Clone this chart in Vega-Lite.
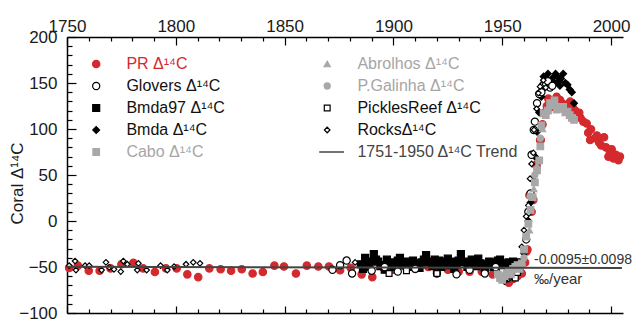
{
  "$schema": "https://vega.github.io/schema/vega-lite/v6.json",
  "width": 556,
  "height": 276,
  "autosize": "none",
  "padding": {"left": 67, "top": 37, "right": 10, "bottom": 9},
  "config": {
    "view": {"stroke": null},
    "font": "Liberation Sans",
    "axis": {"grid": false, "domainColor": "#000", "domainWidth": 1.5, "tickColor": "#000", "tickWidth": 1.2, "labelFont": "Liberation Sans", "labelFontSize": 17, "labelColor": "#1a1a1a", "labelFlush": false, "labelOverlap": false, "labelBound": false},
    "legend": {"orient": "none", "legendX": 21.2, "legendY": 19, "columns": 2, "columnPadding": 94, "rowPadding": 6, "clipHeight": 16, "labelFont": "Liberation Sans", "labelFontSize": 16, "labelOffset": 22.2, "padding": 0, "symbolStrokeWidth": 1.2, "labelLimit": 250}
  },
  "datasets": {
    "pts": [
      {"s":"PR","x":1751,"v":-51},{"s":"PR","x":1755,"v":-48.5},{"s":"PR","x":1760,"v":-54},{"s":"PR","x":1765,"v":-54},{"s":"PR","x":1770,"v":-51.5},{"s":"PR","x":1775,"v":-47},{"s":"PR","x":1780.5,"v":-45.5},{"s":"PR","x":1785,"v":-51.5},{"s":"PR","x":1790.4,"v":-55.5},{"s":"PR","x":1795.5,"v":-51.5},{"s":"PR","x":1800.4,"v":-51.5},{"s":"PR","x":1805.3,"v":-58},{"s":"PR","x":1810.3,"v":-61},{"s":"PR","x":1815.4,"v":-51.5},{"s":"PR","x":1820.6,"v":-52.5},{"s":"PR","x":1825.4,"v":-54},{"s":"PR","x":1830.3,"v":-52.5},{"s":"PR","x":1835.3,"v":-57},{"s":"PR","x":1840,"v":-55.5},{"s":"PR","x":1845.3,"v":-48.5},{"s":"PR","x":1849.7,"v":-49.5},{"s":"PR","x":1855.2,"v":-57},{"s":"PR","x":1860.2,"v":-48.5},{"s":"PR","x":1865.5,"v":-49.5},{"s":"PR","x":1870.4,"v":-49.5},{"s":"PR","x":1875.5,"v":-53.5},{"s":"PR","x":1880.4,"v":-51},{"s":"PR","x":1885.4,"v":-58},{"s":"PR","x":1890.3,"v":-61},{"s":"PR","x":1895,"v":-50},{"s":"PR","x":1900,"v":-53},{"s":"PR","x":1905,"v":-49},{"s":"PR","x":1910,"v":-52},{"s":"PR","x":1916,"v":-50},{"s":"PR","x":1920,"v":-54},{"s":"PR","x":1925,"v":-53},{"s":"PR","x":1930,"v":-55},{"s":"PR","x":1935,"v":-55},{"s":"PR","x":1940.6,"v":-55},{"s":"PR","x":1945.6,"v":-58},{"s":"PR","x":1951.3,"v":-60},{"s":"PR","x":1953,"v":-67},{"s":"PR","x":1955,"v":-63},{"s":"PR","x":1957,"v":-60},{"s":"PR","x":1959,"v":-57},{"s":"PR","x":1960.5,"v":-45},{"s":"PR","x":1961.2,"v":-33},{"s":"PR","x":1961.6,"v":-31},{"s":"PR","x":1962.5,"v":28},{"s":"PR","x":1963.5,"v":10},{"s":"PR","x":1964.3,"v":23},{"s":"PR","x":1965.5,"v":61},{"s":"PR","x":1965.8,"v":60},{"s":"PR","x":1967.4,"v":88},{"s":"PR","x":1967.7,"v":88},{"s":"PR","x":1968.5,"v":105},{"s":"PR","x":1969.5,"v":118},{"s":"PR","x":1970.5,"v":125},{"s":"PR","x":1971.2,"v":133},{"s":"PR","x":1972.7,"v":124},{"s":"PR","x":1974,"v":130},{"s":"PR","x":1975,"v":135},{"s":"PR","x":1976.6,"v":131.5},{"s":"PR","x":1978,"v":127},{"s":"PR","x":1979,"v":126},{"s":"PR","x":1980,"v":122},{"s":"PR","x":1981.2,"v":129.7},{"s":"PR","x":1982.5,"v":123},{"s":"PR","x":1983.5,"v":120},{"s":"PR","x":1985.4,"v":117.7},{"s":"PR","x":1986,"v":112},{"s":"PR","x":1987.3,"v":108},{"s":"PR","x":1988.8,"v":106},{"s":"PR","x":1989.5,"v":96},{"s":"PR","x":1990.4,"v":88},{"s":"PR","x":1990.8,"v":99.7},{"s":"PR","x":1992.6,"v":90},{"s":"PR","x":1993.5,"v":93},{"s":"PR","x":1994.6,"v":85},{"s":"PR","x":1995.5,"v":82},{"s":"PR","x":1996.8,"v":91},{"s":"PR","x":1997.7,"v":80},{"s":"PR","x":1998.8,"v":70},{"s":"PR","x":1999.5,"v":75},{"s":"PR","x":2000.3,"v":78},{"s":"PR","x":2001.1,"v":68},{"s":"PR","x":2002.2,"v":72},{"s":"PR","x":2003.4,"v":66},{"s":"PR","x":2004.1,"v":70},

      {"s":"Bmda97","x":1885,"v":-47},{"s":"Bmda97","x":1886,"v":-52},{"s":"Bmda97","x":1887,"v":-40},{"s":"Bmda97","x":1888,"v":-45},{"s":"Bmda97","x":1889,"v":-50},{"s":"Bmda97","x":1890,"v":-44},{"s":"Bmda97","x":1891,"v":-36},{"s":"Bmda97","x":1892,"v":-42},{"s":"Bmda97","x":1893,"v":-44},{"s":"Bmda97","x":1894,"v":-49},{"s":"Bmda97","x":1895,"v":-48},{"s":"Bmda97","x":1896,"v":-53},{"s":"Bmda97","x":1897,"v":-42},{"s":"Bmda97","x":1898,"v":-46},{"s":"Bmda97","x":1899,"v":-45},{"s":"Bmda97","x":1900,"v":-50},{"s":"Bmda97","x":1901,"v":-47},{"s":"Bmda97","x":1902,"v":-43},{"s":"Bmda97","x":1903,"v":-40},{"s":"Bmda97","x":1904,"v":-48},{"s":"Bmda97","x":1905,"v":-45},{"s":"Bmda97","x":1906,"v":-44},{"s":"Bmda97","x":1907,"v":-50},{"s":"Bmda97","x":1908,"v":-47},{"s":"Bmda97","x":1909,"v":-43},{"s":"Bmda97","x":1910,"v":-49},{"s":"Bmda97","x":1911,"v":-46},{"s":"Bmda97","x":1912,"v":-51},{"s":"Bmda97","x":1913,"v":-45},{"s":"Bmda97","x":1914,"v":-42},{"s":"Bmda97","x":1915,"v":-37},{"s":"Bmda97","x":1916,"v":-44},{"s":"Bmda97","x":1917,"v":-45},{"s":"Bmda97","x":1918,"v":-49},{"s":"Bmda97","x":1919,"v":-42},{"s":"Bmda97","x":1920,"v":-47},{"s":"Bmda97","x":1921,"v":-43},{"s":"Bmda97","x":1922,"v":-50},{"s":"Bmda97","x":1923,"v":-47},{"s":"Bmda97","x":1924,"v":-44},{"s":"Bmda97","x":1925,"v":-41},{"s":"Bmda97","x":1926,"v":-48},{"s":"Bmda97","x":1927,"v":-44},{"s":"Bmda97","x":1928,"v":-52},{"s":"Bmda97","x":1929,"v":-47},{"s":"Bmda97","x":1930,"v":-43},{"s":"Bmda97","x":1931,"v":-36},{"s":"Bmda97","x":1932,"v":-45},{"s":"Bmda97","x":1933,"v":-44},{"s":"Bmda97","x":1934,"v":-50},{"s":"Bmda97","x":1935,"v":-46},{"s":"Bmda97","x":1936,"v":-42},{"s":"Bmda97","x":1937,"v":-47},{"s":"Bmda97","x":1938,"v":-49},{"s":"Bmda97","x":1939,"v":-41},{"s":"Bmda97","x":1940,"v":-46},{"s":"Bmda97","x":1941,"v":-48},{"s":"Bmda97","x":1942,"v":-51},{"s":"Bmda97","x":1943,"v":-47},{"s":"Bmda97","x":1944,"v":-44},{"s":"Bmda97","x":1945,"v":-45},{"s":"Bmda97","x":1946,"v":-50},{"s":"Bmda97","x":1947,"v":-48},{"s":"Bmda97","x":1948,"v":-43},{"s":"Bmda97","x":1949,"v":-42},{"s":"Bmda97","x":1950,"v":-46},{"s":"Bmda97","x":1951,"v":-48},{"s":"Bmda97","x":1952,"v":-52},{"s":"Bmda97","x":1953,"v":-45},{"s":"Bmda97","x":1954,"v":-47},{"s":"Bmda97","x":1955,"v":-44},{"s":"Bmda97","x":1956,"v":-49},{"s":"Bmda97","x":1957,"v":-50},{"s":"Bmda97","x":1958,"v":-45},

      {"s":"Bmda","x":1958,"v":-50},{"s":"Bmda","x":1959,"v":-45},{"s":"Bmda","x":1960,"v":-35},{"s":"Bmda","x":1961,"v":-20},{"s":"Bmda","x":1962,"v":0},{"s":"Bmda","x":1963,"v":20},{"s":"Bmda","x":1964,"v":45},{"s":"Bmda","x":1965,"v":70},{"s":"Bmda","x":1966,"v":97},{"s":"Bmda","x":1967,"v":118},{"s":"Bmda","x":1968,"v":135},{"s":"Bmda","x":1968.5,"v":148},{"s":"Bmda","x":1969,"v":157},{"s":"Bmda","x":1970,"v":150},{"s":"Bmda","x":1970.5,"v":155},{"s":"Bmda","x":1971,"v":160},{"s":"Bmda","x":1972,"v":152},{"s":"Bmda","x":1972.5,"v":146},{"s":"Bmda","x":1973,"v":155},{"s":"Bmda","x":1974,"v":150},{"s":"Bmda","x":1974.5,"v":160},{"s":"Bmda","x":1975,"v":158},{"s":"Bmda","x":1976,"v":152},{"s":"Bmda","x":1976.5,"v":147},{"s":"Bmda","x":1977,"v":155},{"s":"Bmda","x":1978,"v":160},{"s":"Bmda","x":1979,"v":150},{"s":"Bmda","x":1980,"v":148},{"s":"Bmda","x":1981,"v":143},{"s":"Bmda","x":1982,"v":140},{"s":"Bmda","x":1983,"v":128},

      {"s":"Glovers","x":1872,"v":-53},{"s":"Glovers","x":1875.5,"v":-48},{"s":"Glovers","x":1878.5,"v":-43},{"s":"Glovers","x":1881,"v":-57},{"s":"Glovers","x":1890,"v":-54},{"s":"Glovers","x":1896,"v":-50},{"s":"Glovers","x":1902,"v":-55},{"s":"Glovers","x":1910,"v":-52},{"s":"Glovers","x":1920,"v":-57},{"s":"Glovers","x":1929,"v":-58},{"s":"Glovers","x":1935,"v":-53},{"s":"Glovers","x":1942,"v":-57},{"s":"Glovers","x":1947,"v":-50},{"s":"Glovers","x":1952.5,"v":-62},{"s":"Glovers","x":1954.8,"v":-55},{"s":"Glovers","x":1957.9,"v":-53},{"s":"Glovers","x":1961,"v":-20},{"s":"Glovers","x":1962,"v":10},{"s":"Glovers","x":1963,"v":30},{"s":"Glovers","x":1963.5,"v":72},{"s":"Glovers","x":1964.5,"v":99},{"s":"Glovers","x":1965,"v":108},{"s":"Glovers","x":1966,"v":128},{"s":"Glovers","x":1967,"v":138},{"s":"Glovers","x":1968,"v":140},{"s":"Glovers","x":1969,"v":148},{"s":"Glovers","x":1970,"v":150},{"s":"Glovers","x":1971,"v":152},{"s":"Glovers","x":1972,"v":145},{"s":"Glovers","x":1973,"v":147},

      {"s":"Rocks","x":1751,"v":-48.6},{"s":"Rocks","x":1753.7,"v":-43.5},{"s":"Rocks","x":1754.1,"v":-53.3},{"s":"Rocks","x":1758.3,"v":-48.6},{"s":"Rocks","x":1760.2,"v":-48.6},{"s":"Rocks","x":1765.9,"v":-53.3},{"s":"Rocks","x":1767.9,"v":-44.9},{"s":"Rocks","x":1769.4,"v":-50.3},{"s":"Rocks","x":1771.6,"v":-52.5},{"s":"Rocks","x":1774.7,"v":-55},{"s":"Rocks","x":1775.9,"v":-43.5},{"s":"Rocks","x":1777.7,"v":-47},{"s":"Rocks","x":1782.8,"v":-46},{"s":"Rocks","x":1782.3,"v":-53.3},{"s":"Rocks","x":1786.6,"v":-53.3},{"s":"Rocks","x":1793,"v":-48.6},{"s":"Rocks","x":1796.1,"v":-53.3},{"s":"Rocks","x":1799.2,"v":-49.7},{"s":"Rocks","x":1804.7,"v":-47},{"s":"Rocks","x":1808,"v":-44.9},{"s":"Rocks","x":1811.1,"v":-46},{"s":"Rocks","x":1882.4,"v":-45},{"s":"Rocks","x":1950,"v":-60},{"s":"Rocks","x":1951,"v":-66},{"s":"Rocks","x":1953,"v":-63},{"s":"Rocks","x":1955,"v":-58},{"s":"Rocks","x":1957,"v":-52},{"s":"Rocks","x":1959,"v":-28},{"s":"Rocks","x":1960,"v":-10},{"s":"Rocks","x":1961,"v":5},{"s":"Rocks","x":1962,"v":17},{"s":"Rocks","x":1962.8,"v":46},{"s":"Rocks","x":1963.5,"v":62},{"s":"Rocks","x":1964.3,"v":74},{"s":"Rocks","x":1964.6,"v":99},{"s":"Rocks","x":1965.8,"v":122},{"s":"Rocks","x":1966.6,"v":139},{"s":"Rocks","x":1967.4,"v":146},{"s":"Rocks","x":1968.9,"v":153},{"s":"Rocks","x":1970,"v":145},

      {"s":"Pickles","x":1898,"v":-57},{"s":"Pickles","x":1906,"v":-54},{"s":"Pickles","x":1920,"v":-57},{"s":"Pickles","x":1950,"v":-55},{"s":"Pickles","x":1952,"v":-60},{"s":"Pickles","x":1954,"v":-58},{"s":"Pickles","x":1956,"v":-62},{"s":"Pickles","x":1957,"v":-56},

      {"s":"Cabo","x":1948,"v":-58},{"s":"Cabo","x":1949,"v":-62},{"s":"Cabo","x":1950,"v":-64},{"s":"Cabo","x":1951,"v":-60},{"s":"Cabo","x":1952,"v":-57},{"s":"Cabo","x":1953,"v":-55},{"s":"Cabo","x":1954,"v":-58},{"s":"Cabo","x":1955,"v":-52},{"s":"Cabo","x":1956,"v":-50},{"s":"Cabo","x":1957,"v":-48},{"s":"Cabo","x":1958,"v":-52},{"s":"Cabo","x":1959,"v":-46},{"s":"Cabo","x":1960,"v":-31},{"s":"Cabo","x":1961,"v":-17},{"s":"Cabo","x":1962,"v":-3},{"s":"Cabo","x":1963,"v":12},{"s":"Cabo","x":1964,"v":26},{"s":"Cabo","x":1965,"v":42},{"s":"Cabo","x":1966,"v":55},{"s":"Cabo","x":1967,"v":66},{"s":"Cabo","x":1967.5,"v":81},{"s":"Cabo","x":1968,"v":104},{"s":"Cabo","x":1969,"v":117},{"s":"Cabo","x":1970,"v":115},{"s":"Cabo","x":1971,"v":120},{"s":"Cabo","x":1972,"v":128},{"s":"Cabo","x":1973,"v":126},{"s":"Cabo","x":1974,"v":131},{"s":"Cabo","x":1975,"v":121},{"s":"Cabo","x":1976,"v":124},{"s":"Cabo","x":1977,"v":122},{"s":"Cabo","x":1978,"v":124},{"s":"Cabo","x":1979,"v":118},{"s":"Cabo","x":1980,"v":119},{"s":"Cabo","x":1981,"v":115},{"s":"Cabo","x":1982,"v":112},{"s":"Cabo","x":1983,"v":110},

      {"s":"Abrolhos","x":1962.5,"v":-10},{"s":"Abrolhos","x":1964.5,"v":35},{"s":"Abrolhos","x":1966,"v":60},{"s":"Abrolhos","x":1968.5,"v":100},
      {"s":"PGalinha","x":1960,"v":-40},{"s":"PGalinha","x":1962.8,"v":27},{"s":"PGalinha","x":1965,"v":50},{"s":"PGalinha","x":1967.5,"v":90}
    ],
    "trend": [{"x":1750,"v":-49.8},{"x":2005,"v":-51}]
  },
  "layer": [
    {
      "data": {"name": "pts"},
      "mark": {"type": "point", "opacity": 1, "strokeWidth": 1.2},
      "encoding": {
        "x": {"field": "x", "type": "quantitative", "scale": {"domain": [1750, 2005.5], "nice": false, "zero": false},
          "axis": {"orient": "top", "title": null, "values": [1750,1760,1770,1780,1790,1800,1810,1820,1830,1840,1850,1860,1870,1880,1890,1900,1910,1920,1930,1940,1950,1960,1970,1980,1990,2000], "format": "d", "labelExpr": "datum.value % 50 === 0 ? datum.label : ''", "tickSize": {"condition": {"test": "datum.value % 50 === 0", "value": -8}, "value": -4}, "labelPadding": 10}},
        "y": {"field": "v", "type": "quantitative", "scale": {"domain": [-100, 200], "nice": false, "zero": false}, "title": "Coral  Δ¹⁴C",
          "axis": {"orient": "left", "values": [-100,-90,-80,-70,-60,-50,-40,-30,-20,-10,0,10,20,30,40,50,60,70,80,90,100,110,120,130,140,150,160,170,180,190,200], "labelExpr": "datum.value % 50 === 0 ? datum.label : ''", "tickSize": {"condition": {"test": "datum.value % 50 === 0", "value": -9}, "value": -5}, "labelPadding": 19,
            "titleFontSize": 17, "titleFontWeight": "normal", "titleFont": "Liberation Sans", "titleColor": "#1a1a1a", "titleAngle": -90, "titleX": -50, "titleY": 146, "titleAlign": "center", "titleBaseline": "middle"}},
        "fill": {"field": "s", "type": "nominal",
          "scale": {"domain": ["PR","Glovers","Bmda97","Bmda","Cabo","Abrolhos","PGalinha","Pickles","Rocks","Trend"], "range": ["#d42a2e","#ffffff","#000000","#000000","#a8a8a8","#a8a8a8","#a8a8a8","#ffffff","#ffffff","#444444"]},
          "legend": {"title": null, "labelExpr": "{'PR':'PR Δ¹⁴C','Glovers':'Glovers Δ¹⁴C','Bmda97':'Bmda97 Δ¹⁴C','Bmda':'Bmda Δ¹⁴C','Cabo':'Cabo Δ¹⁴C','Abrolhos':'Abrolhos Δ¹⁴C','PGalinha':'P.Galinha Δ¹⁴C','Pickles':'PicklesReef Δ¹⁴C','Rocks':'RocksΔ¹⁴C','Trend':'1751-1950 Δ¹⁴C Trend'}[datum.value]",
            "labelColor": {"expr": "datum.value === 'PR' ? '#d42a2e' : (indexof(['Cabo','Abrolhos','PGalinha'], datum.value) >= 0 ? '#a6a6a6' : (datum.value === 'Trend' ? '#444444' : '#111111'))"}}},
        "stroke": {"field": "s", "type": "nominal",
          "scale": {"domain": ["PR","Glovers","Bmda97","Bmda","Cabo","Abrolhos","PGalinha","Pickles","Rocks","Trend"], "range": ["#d42a2e","#000000","#000000","#000000","#a8a8a8","#a8a8a8","#a8a8a8","#000000","#000000","transparent"]},
          "legend": {"title": null}},
        "shape": {"field": "s", "type": "nominal",
          "scale": {"domain": ["PR","Glovers","Bmda97","Bmda","Cabo","Abrolhos","PGalinha","Pickles","Rocks","Trend"], "range": ["circle","circle","square","diamond","square","triangle-up","circle","square","diamond","M-12,-0.33H6.33V0.33H-12Z"]},
          "legend": {"title": null}},
        "size": {"field": "s", "type": "nominal",
          "scale": {"domain": ["PR","Glovers","Bmda97","Bmda","Cabo","Abrolhos","PGalinha","Pickles","Rocks","Trend"], "range": [55,28,70,28,70,35,40,35,25,36]},
          "legend": {"title": null}}
      }
    },
    {
      "data": {"name": "trend"},
      "mark": {"type": "line", "color": "#444444", "strokeWidth": 2},
      "encoding": {
        "x": {"field": "x", "type": "quantitative",
          "axis": {"orient": "bottom", "title": null, "values": [1750,1760,1770,1780,1790,1800,1810,1820,1830,1840,1850,1860,1870,1880,1890,1900,1910,1920,1930,1940,1950,1960,1970,1980,1990,2000], "labels": false, "tickSize": {"condition": {"test": "datum.value % 50 === 0", "value": -7}, "value": -4}}},
        "y": {"field": "v", "type": "quantitative", "axis": null}
      }
    },
    {
      "data": {"values": [{}]},
      "mark": {"type": "text", "text": "-0.0095±0.0098", "align": "left", "baseline": "alphabetic", "fontSize": 14, "color": "#333333"},
      "encoding": {
        "x": {"datum": 1964.6, "type": "quantitative", "axis": null},
        "y": {"datum": -46.7, "type": "quantitative", "axis": null}
      }
    },
    {
      "data": {"values": [{}]},
      "mark": {"type": "text", "text": "‰/year", "align": "left", "baseline": "alphabetic", "fontSize": 15, "color": "#333333"},
      "encoding": {
        "x": {"datum": 1964.6, "type": "quantitative", "axis": null},
        "y": {"datum": -68.5, "type": "quantitative", "axis": null}
      }
    }
  ],
  "resolve": {"axis": {"x": "independent", "y": "independent"}}
}
